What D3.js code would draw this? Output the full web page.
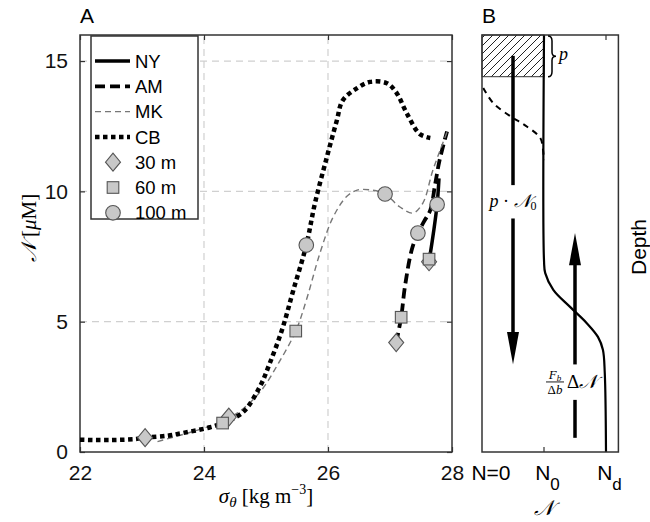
<!DOCTYPE html>
<html><head><meta charset="utf-8">
<script src="https://cdn.jsdelivr.net/npm/d3@7"></script>
<style>
body{margin:0;background:#fff;}
svg{display:block;font-family:"Liberation Sans",Arial,sans-serif;}
.math{font-family:"Liberation Serif","DejaVu Serif",serif;}
</style></head><body>
<svg id="chart" width="650" height="522"></svg>
<script>
// panel A : nitrate vs density, one profile per station
const cbX = [22, 22.5, 22.9, 23.05, 23.4, 23.66, 24.1, 24.3, 24.63, 24.9, 25.06, 25.26, 25.44, 25.65, 25.79, 25.98, 26.14, 26.24, 26.47, 26.68, 26.95, 27.1, 27.27, 27.48, 27.65];
const cbY = [0.47, 0.46, 0.5, 0.55, 0.62, 0.73, 0.95, 1.11, 1.53, 2.5, 3.4, 4.7, 6.2, 7.94, 9.55, 11.3, 12.7, 13.5, 13.96, 14.2, 14.15, 13.8, 13.0, 12.2, 12.05];
const mkX = [23.25, 23.7, 24.1, 24.4, 24.65, 24.93, 25.2, 25.48, 25.66, 25.87, 26.08, 26.3, 26.47, 26.7, 26.92, 27.16, 27.37, 27.53, 27.69, 27.92];
const mkY = [0.4, 0.7, 1.0, 1.3, 1.7, 2.38, 3.4, 4.64, 5.9, 7.63, 9.0, 9.8, 10.05, 10.05, 9.9, 9.4, 9.17, 9.55, 10.8, 12.28];
const amX = [27.1, 27.18, 27.24, 27.35, 27.45, 27.55, 27.65, 27.73, 27.8, 27.92];
const amY = [4.2, 5.17, 6.33, 7.75, 8.4, 8.85, 9.28, 10.3, 11.2, 12.3];
const nyX = [27.63, 27.7, 27.76, 27.79];
const nyY = [7.3, 8.4, 9.5, 10.5];

// sample depths: [sigma, N]
const m30 = [[23.05, 0.55], [24.40, 1.34], [27.1, 4.2], [27.63, 7.3]];
const m60 = [[24.3, 1.11], [25.48, 4.64], [27.18, 5.17], [27.63, 7.4]];
const m100 = [[25.65, 7.94], [26.92, 9.9], [27.45, 8.4], [27.76, 9.5]];

const xTicks = [22, 24, 26, 28];
const yTicks = [0, 5, 10, 15];

// panel B : schematic profile (N, depth fraction)
const profN = [1, 1, 1.02, 1.15, 1.42, 1.69, 1.87, 1.95, 1.98, 2];
const profD = [0, 0.54, 0.571, 0.611, 0.652, 0.691, 0.724, 0.755, 0.81, 1];
const dashN = [0.02, 0.18, 0.48, 0.69, 0.94, 0.98, 1];
const dashD = [0.127, 0.163, 0.197, 0.216, 0.247, 0.271, 0.3];
const pDepth = 0.1;
const bTicks = [0, 1, 2];

const svg = d3.select('#chart');
const x = d3.scaleLinear().domain([22, 28]).range([80, 452]);
const y = d3.scaleLinear().domain([0, 16]).range([452, 35]);

const A = svg.append('g');

// grid
A.selectAll('.gx').data([24, 26]).enter().append('line')
  .attr('x1', d => x(d)).attr('x2', d => x(d)).attr('y1', y(0)).attr('y2', y(16))
  .attr('stroke', '#d0d0d0').attr('stroke-dasharray', '7,5').attr('stroke-width', 1.2);
A.selectAll('.gy').data([5, 10, 15]).enter().append('line')
  .attr('y1', d => y(d)).attr('y2', d => y(d)).attr('x1', x(22)).attr('x2', x(28))
  .attr('stroke', '#d0d0d0').attr('stroke-dasharray', '7,5').attr('stroke-width', 1.2);

function styleAxis(g){
  g.select('.domain').remove();
  g.selectAll('line').attr('stroke', '#333').attr('stroke-width', 1.2);
  g.selectAll('text').attr('font-size', 21).attr('fill', '#111');
}
const fmt = d3.format('d');
A.append('g').attr('transform', 'translate(0,' + y(0) + ')')
  .call(d3.axisBottom(x).tickValues(xTicks).tickFormat(fmt).tickSize(-5).tickPadding(13)).call(styleAxis);
A.append('g').attr('transform', 'translate(0,' + y(16) + ')')
  .call(d3.axisTop(x).tickValues(xTicks).tickSize(-5).tickFormat('')).call(styleAxis);
A.append('g').attr('transform', 'translate(' + x(22) + ',0)')
  .call(d3.axisLeft(y).tickValues(yTicks).tickFormat(fmt).tickSize(-5).tickPadding(12)).call(styleAxis);
A.append('g').attr('transform', 'translate(' + x(28) + ',0)')
  .call(d3.axisRight(y).tickValues(yTicks).tickSize(-5).tickFormat('')).call(styleAxis);

A.append('rect').attr('x', x(22)).attr('y', y(16)).attr('width', x(28) - x(22)).attr('height', y(0) - y(16))
  .attr('fill', 'none').attr('stroke', '#333').attr('stroke-width', 1.5);

const line = d3.line().x(d => x(d[0])).y(d => y(d[1])).curve(d3.curveCatmullRom);
const zip = (a, b) => a.map((v, i) => [v, b[i]]);

const series = [
  {name: 'NY', xs: nyX, ys: nyY, stroke: '#000', w: 3.5, dash: null},
  {name: 'AM', xs: amX, ys: amY, stroke: '#000', w: 3.8, dash: '10,5'},
  {name: 'MK', xs: mkX, ys: mkY, stroke: '#777', w: 1.4, dash: '6,4'},
  {name: 'CB', xs: cbX, ys: cbY, stroke: '#000', w: 4.5, dash: '4.5,3.5'}
];
series.forEach(s => {
  A.append('path').datum(zip(s.xs, s.ys)).attr('d', line)
    .attr('fill', 'none').attr('stroke', s.stroke).attr('stroke-width', s.w)
    .attr('stroke-dasharray', s.dash);
});

const mFill = '#c8c8c8', mStroke = '#555';
function diamond(g, cx, cy){
  g.append('path').attr('d', 'M' + cx + ',' + (cy - 9) + 'L' + (cx + 7.5) + ',' + cy + 'L' + cx + ',' + (cy + 9) + 'L' + (cx - 7.5) + ',' + cy + 'Z')
    .attr('fill', mFill).attr('stroke', mStroke).attr('stroke-width', 1.1);
}
function square(g, cx, cy){
  g.append('rect').attr('x', cx - 5.8).attr('y', cy - 5.8).attr('width', 11.6).attr('height', 11.6)
    .attr('fill', mFill).attr('stroke', mStroke).attr('stroke-width', 1.1);
}
function circle(g, cx, cy){
  g.append('circle').attr('cx', cx).attr('cy', cy).attr('r', 7.3)
    .attr('fill', mFill).attr('stroke', mStroke).attr('stroke-width', 1.1);
}
m30.forEach(d => diamond(A, x(d[0]), y(d[1])));
m60.forEach(d => square(A, x(d[0]), y(d[1])));
m100.forEach(d => circle(A, x(d[0]), y(d[1])));

// legend
const leg = A.append('g');
leg.append('rect').attr('x', 91).attr('y', 36).attr('width', 107).attr('height', 183)
  .attr('fill', '#fff').attr('stroke', '#333').attr('stroke-width', 1.5);
const legItems = ['NY', 'AM', 'MK', 'CB', '30 m', '60 m', '100 m'];
legItems.forEach((t, i) => {
  const ly = 61 + i * 25.3;
  if (i < 4) {
    const s = series[i];
    leg.append('line').attr('x1', 95).attr('x2', 130).attr('y1', ly).attr('y2', ly)
      .attr('stroke', s.stroke).attr('stroke-width', s.w).attr('stroke-dasharray', s.dash);
  } else if (i === 4) diamond(leg, 113, ly);
  else if (i === 5) square(leg, 113, ly);
  else circle(leg, 113, ly);
  leg.append('text').attr('x', 135).attr('y', ly).attr('dy', '0.36em').attr('font-size', 18.5).text(t);
});

svg.append('text').attr('x', 80).attr('y', 23).attr('font-size', 21).text('A');

const xl = svg.append('text').attr('class', 'math').attr('x', 266).attr('y', 503)
  .attr('text-anchor', 'middle').attr('font-size', 21);
xl.append('tspan').attr('font-style', 'italic').text('σ');
xl.append('tspan').attr('font-style', 'italic').attr('font-size', 15).attr('dy', 4).text('θ');
xl.append('tspan').attr('dy', -4).text('  [kg m');
xl.append('tspan').attr('font-size', 14).attr('dy', -9).text('−3');
xl.append('tspan').attr('dy', 9).text(']');

const yl = svg.append('text').attr('class', 'math').attr('transform', 'translate(36,228) rotate(-90)')
  .attr('text-anchor', 'middle').attr('font-size', 21);
yl.append('tspan').attr('font-style', 'italic').text('𝒩');
yl.append('tspan').text(' [');
yl.append('tspan').attr('font-style', 'italic').text('μ');
yl.append('tspan').text('M]');

// panel B
const xB = d3.scaleLinear().domain([0, 2.2]).range([482, 618.4]);
const yB = d3.scaleLinear().domain([0, 1]).range([35, 452]);
const B = svg.append('g');

const defs = svg.append('defs');
defs.append('pattern').attr('id', 'hatch').attr('patternUnits', 'userSpaceOnUse').attr('width', 8).attr('height', 8)
  .append('path').attr('d', 'M0,8 l8,-8 M-1,1 l2,-2 M7,9 l2,-2').attr('stroke', '#222').attr('stroke-width', 1);

B.append('rect').attr('x', xB(0)).attr('y', yB(0)).attr('width', xB(1) - xB(0)).attr('height', yB(pDepth) - yB(0))
  .attr('fill', 'url(#hatch)').attr('stroke', '#333').attr('stroke-width', 1);

const lineB = d3.line().x(d => xB(d[0])).y(d => yB(d[1])).curve(d3.curveCatmullRom);
B.append('path').datum(zip(profN, profD)).attr('d', lineB)
  .attr('fill', 'none').attr('stroke', '#000').attr('stroke-width', 2.2);
B.append('path').datum(zip(dashN, dashD)).attr('d', lineB)
  .attr('fill', 'none').attr('stroke', '#000').attr('stroke-width', 2).attr('stroke-dasharray', '6,5');

// arrows
function arrowSeg(n, d0, d1){
  B.append('line').attr('x1', xB(n)).attr('x2', xB(n)).attr('y1', yB(d0)).attr('y2', yB(d1))
    .attr('stroke', '#000').attr('stroke-width', 3.5);
}
function head(n, base, tip){
  const cx = xB(n);
  B.append('path').attr('d', 'M' + (cx - 6) + ',' + yB(base) + 'L' + (cx + 6) + ',' + yB(base) + 'L' + cx + ',' + yB(tip) + 'Z')
    .attr('fill', '#000');
}
arrowSeg(0.5, 0.05, 0.36);
arrowSeg(0.5, 0.44, 0.72);
head(0.5, 0.712, 0.79);
arrowSeg(1.5, 0.966, 0.875);
arrowSeg(1.5, 0.79, 0.545);
head(1.5, 0.552, 0.475);

// frame + ticks
B.append('rect').attr('x', xB(0)).attr('y', yB(0)).attr('width', xB(2.2) - xB(0)).attr('height', yB(1) - yB(0))
  .attr('fill', 'none').attr('stroke', '#333').attr('stroke-width', 1.5);
B.append('line').attr('x1', xB(1)).attr('x2', xB(1)).attr('y1', yB(1)).attr('y2', yB(1) - 5).attr('stroke', '#333').attr('stroke-width', 1.2);
B.append('line').attr('x1', xB(2)).attr('x2', xB(2)).attr('y1', yB(0)).attr('y2', yB(0) + 5).attr('stroke', '#333').attr('stroke-width', 1.2);

// brace and p
const bx = xB(1) + 4, by0 = yB(0) + 1, by1 = yB(pDepth), bm = (by0 + by1) / 2;
B.append('path').attr('d',
  'M' + bx + ',' + by0 + ' Q' + (bx + 4) + ',' + by0 + ' ' + (bx + 4) + ',' + (by0 + 5) +
  ' L' + (bx + 4) + ',' + (bm - 4) + ' Q' + (bx + 4) + ',' + bm + ' ' + (bx + 8) + ',' + bm +
  ' Q' + (bx + 4) + ',' + bm + ' ' + (bx + 4) + ',' + (bm + 4) +
  ' L' + (bx + 4) + ',' + (by1 - 5) + ' Q' + (bx + 4) + ',' + by1 + ' ' + bx + ',' + by1)
  .attr('fill', 'none').attr('stroke', '#000').attr('stroke-width', 1.5);
B.append('text').attr('class', 'math').attr('x', bx + 11).attr('y', bm + 4).attr('font-size', 18)
  .attr('font-style', 'italic').text('p');

// p · N0
const t1 = B.append('text').attr('class', 'math').attr('x', xB(0.5)).attr('y', yB(0.4) + 5)
  .attr('text-anchor', 'middle').attr('font-size', 18);
t1.append('tspan').attr('font-style', 'italic').text('p');
t1.append('tspan').text(' · ');
t1.append('tspan').attr('font-style', 'italic').text('𝒩');
t1.append('tspan').attr('font-size', 12).attr('dy', 3).text('0');

// Fb/Δb ΔN
const fx = xB(1.5) - 20, fy = yB(0.832);
B.append('text').attr('class', 'math').attr('x', fx).attr('y', fy - 3).attr('text-anchor', 'middle').attr('font-size', 13)
  .html('<tspan font-style="italic">F</tspan><tspan font-size="9" dy="2" font-style="italic">b</tspan>');
B.append('line').attr('x1', fx - 9).attr('x2', fx + 9).attr('y1', fy).attr('y2', fy).attr('stroke', '#000').attr('stroke-width', 0.9);
B.append('text').attr('class', 'math').attr('x', fx).attr('y', fy + 12).attr('text-anchor', 'middle').attr('font-size', 13)
  .html('Δ<tspan font-style="italic">b</tspan>');
B.append('text').attr('class', 'math').attr('x', fx + 12).attr('y', fy + 6).attr('font-size', 19)
  .html('Δ<tspan font-style="italic">𝒩</tspan>');

// bottom labels
const bl = ['N=0', 'N', 'N'], bs = ['', '0', 'd'], bOff = [9, 3.5, 3.5];
bTicks.forEach((n, i) => {
  const t = B.append('text').attr('x', xB(n) + bOff[i]).attr('y', 480).attr('text-anchor', 'middle').attr('font-size', 21);
  t.append('tspan').text(bl[i]);
  if (bs[i]) t.append('tspan').attr('font-size', 17).attr('dy', 10).text(bs[i]);
});
B.append('text').attr('class', 'math').attr('x', xB(1)).attr('y', 515).attr('text-anchor', 'middle')
  .attr('font-size', 21).attr('font-style', 'italic').text('𝒩');

svg.append('text').attr('x', 482).attr('y', 23).attr('font-size', 21).text('B');
svg.append('text').attr('transform', 'translate(646,247) rotate(-90)').attr('text-anchor', 'middle')
  .attr('font-size', 21).text('Depth');
</script></body></html>
